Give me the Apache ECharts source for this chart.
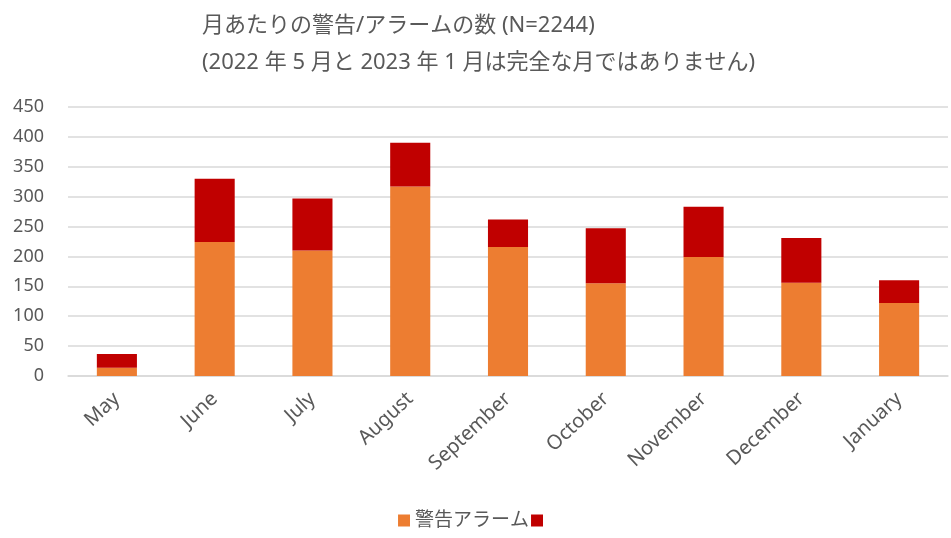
<!DOCTYPE html>
<html>
<head>
<meta charset="utf-8">
<script src="https://cdn.jsdelivr.net/npm/echarts@6/dist/echarts.min.js"></script>
<style>
  html, body { margin: 0; padding: 0; background: #fff; }
  #chart { width: 951px; height: 538px; }
</style>
</head>
<body>
<div id="chart"></div>
<script>
// 月ごとのデータ
const months = ['May', 'June', 'July', 'August', 'September', 'October', 'November', 'December', 'January'];
const alarmValues = [14, 224, 210, 317, 216, 155, 199, 156, 122];
const otherValues = [23, 106, 87, 73, 46, 92, 84, 75, 38];
const yTicks = [0, 50, 100, 150, 200, 250, 300, 350, 400, 450];

const fontFamily = '"Noto Sans", "Noto Sans CJK JP", sans-serif';

const chart = echarts.init(document.getElementById('chart'));

const option = {
  animation: false,
  textStyle: { fontFamily: fontFamily },
  title: {
    text: '月あたりの警告/アラームの数 (N=2244)\n(2022 年 5 月と 2023 年 1 月は完全な月ではありません)',
    left: 197,
    top: 2,
    textStyle: {
      fontFamily: fontFamily,
      fontSize: 22,
      fontWeight: 'normal',
      color: '#595959',
      lineHeight: 37
    }
  },
  legend: {
    bottom: 3,
    left: 'center',
    itemWidth: 12,
    itemHeight: 12,
    itemGap: 2,
    icon: 'rect',
    textStyle: { fontSize: 19, color: '#595959', fontFamily: fontFamily },
    data: ['警告アラーム', ' ']
  },
  grid: {
    left: 68,
    right: 3,
    top: 107,
    bottom: 162
  },
  xAxis: {
    type: 'category',
    data: months,
    axisLine: { lineStyle: { color: '#d9d9d9', width: 1.5 } },
    axisTick: { show: false },
    axisLabel: {
      rotate: 43,
      fontSize: 20,
      color: '#595959',
      margin: 20
    }
  },
  yAxis: {
    type: 'value',
    min: yTicks[0],
    max: yTicks[yTicks.length - 1],
    interval: 50,
    axisLine: { show: false },
    axisTick: { show: false },
    splitLine: { lineStyle: { color: '#d9d9d9', width: 1.5 } },
    axisLabel: {
      fontSize: 18,
      color: '#595959',
      margin: 24
    }
  },
  series: [
    {
      name: '警告アラーム',
      type: 'bar',
      stack: 'total',
      barWidth: '41%',
      itemStyle: { color: '#ED7D31' },
      data: alarmValues
    },
    {
      name: ' ',
      type: 'bar',
      stack: 'total',
      barWidth: '41%',
      itemStyle: { color: '#C00000' },
      data: otherValues
    }
  ]
};

option && chart.setOption(option);
</script>
</body>
</html>
